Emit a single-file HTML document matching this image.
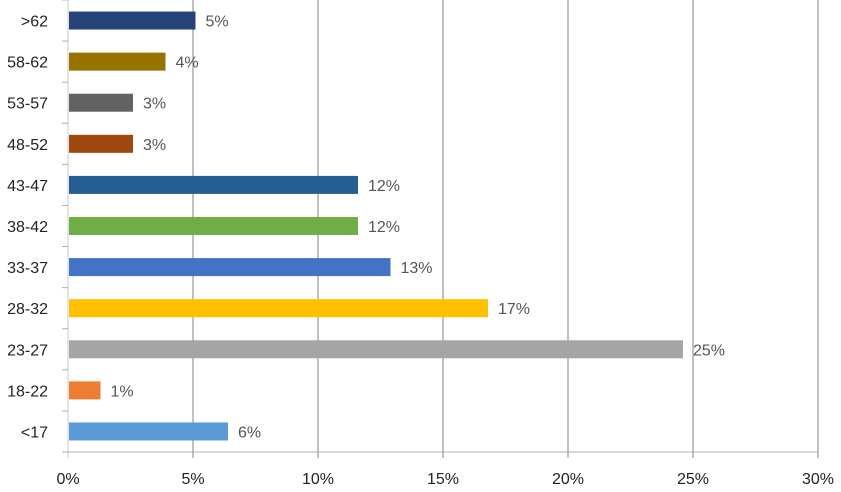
<!DOCTYPE html>
<html><head><meta charset="utf-8"><style>
body{margin:0;background:#fff;}
svg{display:block;font-family:"Liberation Sans",sans-serif;}
</style></head><body>
<svg id="chart" width="841" height="492"></svg>
<script>
const categories=["<17","18-22","23-27","28-32","33-37","38-42","43-47","48-52","53-57","58-62",">62"];
const values=[6.4,1.3,24.6,16.8,12.9,11.6,11.6,2.6,2.6,3.9,5.1];
const labels=["6%","1%","25%","17%","13%","12%","12%","3%","3%","4%","5%"];
const colors=["#5b9bd5","#ed7d31","#a5a5a5","#ffc000","#4472c4","#70ad47","#255e91","#9e480e","#636363","#997300","#264478"];
const ticks=[0,5,10,15,20,25,30];
const svg=document.getElementById('chart');
const NS="http://www.w3.org/2000/svg";
const x0=68,x1=818,yTop=0,yBot=452;
const xs=v=>x0+(v/30)*(x1-x0);
const band=(yBot-yTop)/categories.length;
const yc=i=>yBot-band*(i+0.5);
function mk(t,a){const e=document.createElementNS(NS,t);for(const k in a)e.setAttribute(k,a[k]);svg.appendChild(e);return e;}
ticks.forEach(t=>{
  const l=mk('line',{x1:xs(t),x2:xs(t),y1:t===0?yTop:yTop,y2:yBot+6,stroke:t===0?'#c8c8c8':'#808080','stroke-width':1});
  
  
  const tx=mk('text',{x:xs(t),y:484,'text-anchor':'middle','font-size':16,fill:'#222'});
  tx.textContent=t+'%';
  
  
});
const ax=mk('line',{x1:x0-6,x2:x1,y1:yBot,y2:yBot,stroke:'#b0b0b0','stroke-width':1});


for(let i=0;i<=categories.length;i++){
  const y=yBot-band*i;
  const tk=mk('line',{x1:x0-6,x2:x0,y1:y,y2:y,stroke:'#b0b0b0','stroke-width':1});
  
  
}
categories.forEach((c,i)=>{
  const y=yc(i);
  const r=mk('rect',{x:x0+1,y:y-9,width:xs(values[i])-x0-1,height:18,fill:colors[i]});
  
  
  const lt=mk('text',{x:48,y:y+6,'text-anchor':'end','font-size':16,fill:'#222'});
  lt.textContent=c;
  
  
  const vt=mk('text',{x:xs(values[i])+10,y:y+6,'font-size':16,fill:'#555'});
  vt.textContent=labels[i];
  
  
});
</script>
</body></html>
